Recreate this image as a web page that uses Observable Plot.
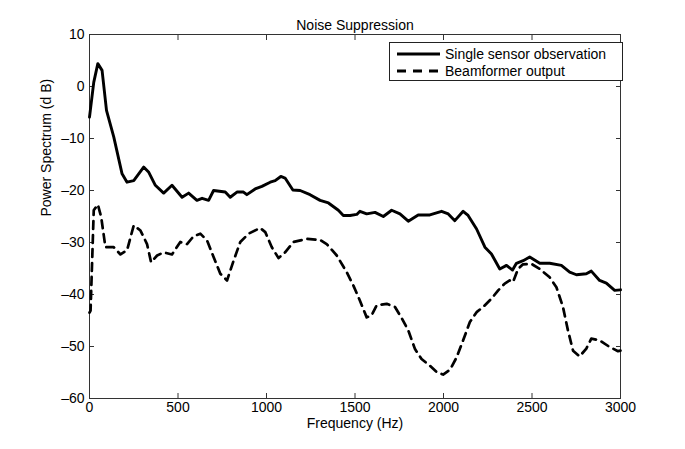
<!DOCTYPE html>
<html>
<head>
<meta charset="utf-8">
<script src="https://cdn.jsdelivr.net/npm/d3@7"></script>
<script src="https://cdn.jsdelivr.net/npm/@observablehq/plot@0.6"></script>
<style>
  html, body { margin: 0; padding: 0; background: #fff; }
  #wrap { position: relative; width: 685px; height: 449px; font-family: "Liberation Sans", Arial, sans-serif; }
  #legend { position: absolute; left: 389px; top: 42px; width: 234px; height: 39px; border: 1px solid #222; background: #fff; box-sizing: border-box; font-size: 14px; color: #000; }
  .row { position: absolute; left: 7px; height: 17px; display: flex; align-items: center; white-space: nowrap; }
  .row svg { margin-right: 5px; }
</style>
</head>
<body>
<div id="wrap"></div>
<script>
const title = "Noise Suppression";
const xLabel = "Frequency (Hz)";
const yLabel = "Power Spectrum (d B)";
const seriesNames = ["Single sensor observation", "Beamformer output"];
const xTicks = [0, 500, 1000, 1500, 2000, 2500, 3000];
const yTicks = [-60, -50, -40, -30, -20, -10, 0, 10];

const singleFreq = [0, 24, 47, 71, 96, 137, 184, 212, 250, 306, 335, 372, 419, 466, 523, 560, 607, 636, 673, 701, 767, 795, 833, 870, 889, 936, 974, 1021, 1049, 1081, 1105, 1149, 1190, 1246, 1303, 1350, 1406, 1434, 1472, 1510, 1528, 1566, 1613, 1660, 1707, 1754, 1801, 1857, 1923, 1989, 2027, 2064, 2111, 2139, 2187, 2234, 2271, 2318, 2356, 2390, 2412, 2450, 2487, 2544, 2600, 2666, 2713, 2751, 2807, 2835, 2882, 2920, 2967, 3000];
const singleDb = [-5.9, 0.8, 4.4, 3.1, -4.6, -9.7, -16.8, -18.4, -18.1, -15.5, -16.5, -19, -20.5, -19, -21.3, -20.5, -21.9, -21.5, -21.9, -20, -20.3, -21.3, -20.3, -20.3, -20.8, -19.7, -19.2, -18.4, -18.1, -17.3, -17.6, -19.9, -20, -20.8, -21.9, -22.4, -23.8, -24.8, -24.8, -24.6, -24.0, -24.5, -24.2, -25, -23.8, -24.5, -25.9, -24.7, -24.7, -24, -24.5, -25.8, -24, -24.8, -27.4, -30.9, -32.2, -35.1, -34.4, -35.3, -34, -33.5, -32.8, -34, -34, -34.4, -35.7, -36.2, -36, -35.5, -37.3, -37.8, -39.2, -39.1];

const beamFreq = [0, 6, 15, 24, 47, 66, 90, 137, 175, 212, 250, 288, 325, 348, 382, 419, 466, 513, 551, 588, 626, 664, 701, 739, 777, 814, 852, 899, 964, 993, 1030, 1068, 1105, 1152, 1228, 1303, 1340, 1397, 1453, 1491, 1528, 1566, 1594, 1622, 1679, 1726, 1763, 1801, 1839, 1876, 1923, 1961, 1998, 2036, 2074, 2111, 2149, 2187, 2224, 2271, 2309, 2346, 2374, 2393, 2421, 2449, 2496, 2544, 2600, 2638, 2675, 2703, 2732, 2769, 2807, 2835, 2882, 2939, 2986, 3000];
const beamDb = [-43.5, -43.1, -33.5, -23.8, -22.7, -25.1, -30.9, -30.9, -32.3, -31.5, -26.7, -27.7, -30.3, -33.8, -32.5, -31.9, -32.3, -29.9, -30.3, -28.8, -28.3, -29.6, -32.8, -36, -37.3, -33.5, -29.9, -28.3, -27.2, -28, -30.9, -33, -31.9, -29.9, -29.3, -29.5, -30.3, -32.5, -35.7, -38.3, -41.2, -44.4, -44.0, -42.1, -41.8, -42.4, -44.5, -46.9, -50.5, -52.4, -53.7, -54.9, -55.4, -54.5, -52.1, -48.8, -45.3, -43.4, -42.4, -40.8, -39.2, -37.9, -37.3, -37.6, -35.1, -34.2, -34.1, -35.1, -36.7, -38.6, -42.4, -46.9, -50.8, -51.9, -50.4, -48.5, -48.8, -50.1, -50.9, -50.8];

const single = singleFreq.map((f, i) => ({f, db: singleDb[i]}));
const beam = beamFreq.map((f, i) => ({f, db: beamDb[i]}));

const font = "Liberation Sans, Arial, sans-serif";
const fmt = d => (d < 0 ? "\u2013" + Math.abs(d) : String(d));
const plot = Plot.plot({
  width: 685,
  height: 449,
  marginLeft: 89,
  marginRight: 65,
  marginTop: 34,
  marginBottom: 51,
  style: {fontFamily: font, fontSize: "14px", color: "#000", background: "#fff"},
  x: {domain: [0, 3000]},
  y: {domain: [-60, 10]},
  marks: [
    Plot.frame({stroke: "#333", strokeWidth: 1}),
    Plot.axisX({anchor: "bottom", ticks: xTicks, tickSize: -5, tickPadding: 9, tickFormat: fmt, label: null, fontSize: 14, stroke: "#333"}),
    Plot.axisX({anchor: "top", ticks: xTicks, tickSize: -5, tickFormat: () => "", label: null, stroke: "#333"}),
    Plot.axisY({anchor: "left", ticks: yTicks, tickSize: -5, tickPadding: 10, tickFormat: fmt, label: null, fontSize: 14, stroke: "#333"}),
    Plot.axisY({anchor: "right", ticks: yTicks, tickSize: -5, tickFormat: () => "", label: null, stroke: "#333"}),
    Plot.line(beam, {x: "f", y: "db", stroke: "#000", strokeWidth: 2.7, strokeDasharray: "8,6", strokeLinejoin: "round"}),
    Plot.line(single, {x: "f", y: "db", stroke: "#000", strokeWidth: 2.9, strokeLinejoin: "round"}),
    Plot.text([title], {frameAnchor: "top", dy: -14, text: d => d, fontSize: 14}),
    Plot.text([xLabel], {frameAnchor: "bottom", dy: 29, text: d => d, fontSize: 14}),
    Plot.text([yLabel], {frameAnchor: "left", dx: -43, rotate: -90, text: d => d, fontSize: 14})
  ]
});
const wrap = document.getElementById("wrap");
wrap.appendChild(plot);

const legend = document.createElement("div");
legend.id = "legend";
const dashes = ["none", "9,7"];
seriesNames.forEach((name, i) => {
  const row = document.createElement("div");
  row.className = "row";
  row.style.top = (i === 0 ? 2 : 19) + "px";
  row.innerHTML = `<svg width="43" height="6"><line x1="0" y1="3" x2="43" y2="3" stroke="#000" stroke-width="3" stroke-dasharray="${dashes[i]}"/></svg><span>${name}</span>`;
  legend.appendChild(row);
});
wrap.appendChild(legend);
</script>
</body>
</html>
